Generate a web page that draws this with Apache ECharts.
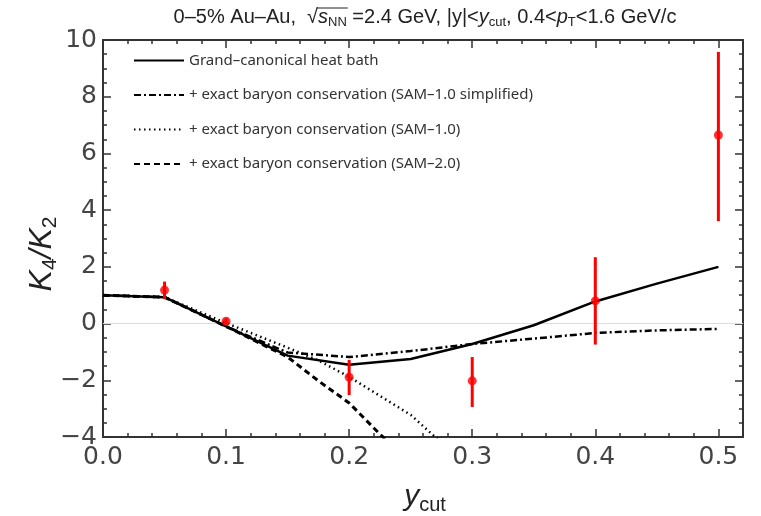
<!DOCTYPE html>
<html>
<head>
<meta charset="utf-8">
<script src="https://cdn.jsdelivr.net/npm/echarts@6/dist/echarts.min.js"></script>
<style>
  html, body { margin: 0; padding: 0; background: #fff; }
  #chart { width: 761px; height: 516px; }
</style>
</head>
<body>
<div id="chart"></div>
<script>
// model curves, K4/K2 vs y_cut
var gceX = [0, 0.05, 0.1, 0.15, 0.2, 0.25, 0.3, 0.35, 0.4, 0.45, 0.5];
var gceY = [1.0, 0.93, -0.1, -1.13, -1.45, -1.25, -0.72, -0.06, 0.78, 1.41, 2.0];

var samSimpX = [0, 0.05, 0.1, 0.15, 0.2, 0.25, 0.3, 0.35, 0.4, 0.45, 0.5];
var samSimpY = [1.0, 0.93, -0.1, -1.02, -1.18, -0.97, -0.72, -0.53, -0.33, -0.24, -0.19];

var sam1X = [0, 0.05, 0.1, 0.15, 0.175, 0.2, 0.225, 0.25, 0.275];
var sam1Y = [1.0, 0.93, 0.02, -0.85, -1.3, -1.88, -2.55, -3.22, -4.2];

var sam2X = [0, 0.05, 0.1, 0.15, 0.175, 0.2, 0.225, 0.235];
var sam2Y = [1.0, 0.93, -0.1, -1.18, -2.02, -2.8, -3.9, -4.3];

// measured points with error bars
var dataX  = [0.05, 0.1, 0.2, 0.3, 0.4, 0.5];
var dataY  = [1.18, 0.08, -1.89, -2.02, 0.8, 6.65];
var dataLo = [0.86, -0.03, -2.52, -2.94, -0.74, 3.61];
var dataHi = [1.48, 0.19, -1.28, -1.18, 2.34, 9.58];

var xTickLabels = ['0.0', '0.1', '0.2', '0.3', '0.4', '0.5'];
var yTickLabels = ['\u22124', '\u22122', '0', '2', '4', '6', '8', '10'];

var legendNames = [
  'Grand\u2013canonical heat bath',
  '+ exact baryon conservation (SAM\u20131.0 simplified)',
  '+ exact baryon conservation (SAM\u20131.0)',
  '+ exact baryon conservation (SAM\u20132.0)'
];

// title pieces: [text, style]  (n = normal, i = italic, s = subscript)
var titleParts = [
  ['0\u20135% Au\u2013Au,  \u221a', 'n'], ['s', 'i'], ['NN', 's'], [' =2.4 GeV, |y|<', 'n'],
  ['y', 'i'], ['cut', 's'], [', 0.4<', 'n'], ['p', 'i'], ['T', 's'], ['<1.6 GeV/c', 'n']
];

function pairs(xs, ys) {
  var out = [];
  for (var i = 0; i < xs.length; i++) out.push([xs[i], ys[i]]);
  return out;
}

var errData = [];
for (var i = 0; i < dataX.length; i++) {
  errData.push([dataX[i], dataY[i], dataLo[i], dataHi[i]]);
}

var frameColor = '#333';
var labelFont = { fontFamily: 'DejaVu Sans', fontSize: 25, fontWeight: 'normal', color: '#444' };
var titleSize = 20, titleSub = 13, titleX = 425, titleY = 17;

// measure title to place the overline of the square root
var mctx = document.createElement('canvas').getContext('2d');
function partFont(kind) {
  if (kind === 'i') return 'italic ' + titleSize + 'px "Liberation Sans"';
  if (kind === 's') return titleSub + 'px "Liberation Sans"';
  return titleSize + 'px "Liberation Sans"';
}
var richText = '', widths = [], total = 0;
titleParts.forEach(function (p) {
  mctx.font = partFont(p[1]);
  var w = mctx.measureText(p[0]).width;
  widths.push(w);
  total += w;
  richText += p[1] === 'n' ? p[0] : '{' + p[1] + '|' + p[0] + '}';
});
var ovStart = titleX - total / 2 + widths[0] - 1;
var ovEnd = ovStart + 1 + widths[1] + widths[2] + 1;

var chart = echarts.init(document.getElementById('chart'), null, { renderer: 'canvas' });

function xAxisPair(pos, withLabels) {
  return [{
    type: 'value', position: pos, min: 0, max: 0.52, interval: 0.02,
    axisLine: { show: true, onZero: false, lineStyle: { color: frameColor, width: 2 } },
    axisTick: { show: true, inside: true, length: 4, lineStyle: { color: frameColor, width: 1.5 } },
    axisLabel: { show: false },
    splitLine: { show: false }
  }, {
    type: 'value', position: pos, min: 0, max: 0.52, interval: 0.1,
    axisLine: { show: false, onZero: false },
    axisTick: { show: true, inside: true, length: 8, lineStyle: { color: frameColor, width: 1.5 } },
    axisLabel: {
      show: withLabels, margin: 8, showMaxLabel: false,
      formatter: function (v) { return xTickLabels[Math.round(v * 10)] || ''; },
      fontFamily: labelFont.fontFamily, fontSize: labelFont.fontSize,
      fontWeight: labelFont.fontWeight, color: labelFont.color
    },
    splitLine: { show: false }
  }];
}

function yAxisSide(pos, withLabels) {
  return {
    type: 'value', position: pos, min: -4, max: 10, interval: 2,
    axisLine: { show: true, onZero: false, lineStyle: { color: frameColor, width: 2 } },
    axisTick: { show: true, inside: true, length: 8, lineStyle: { color: frameColor, width: 1.5 } },
    minorTick: { show: true, splitNumber: 4, length: 4, lineStyle: { color: frameColor, width: 1.5 } },
    axisLabel: {
      show: withLabels, margin: 6,
      formatter: function (v) { return yTickLabels[Math.round((v + 4) / 2)]; },
      fontFamily: labelFont.fontFamily, fontSize: labelFont.fontSize,
      fontWeight: labelFont.fontWeight, color: labelFont.color
    },
    splitLine: { show: false }
  };
}

var xAxes = xAxisPair('bottom', true).concat(xAxisPair('top', false));

var option = {
  animation: false,
  backgroundColor: '#fff',
  grid: { left: 103, right: 18, top: 40, bottom: 79, outerBoundsMode: 'none' },
  xAxis: xAxes,
  yAxis: [yAxisSide('left', true), yAxisSide('right', false)],
  legend: {
    orient: 'vertical',
    left: 133, top: 53, padding: 0,
    itemWidth: 50, itemHeight: 14, itemGap: 19.5,
    data: legendNames,
    selectedMode: false,
    itemStyle: { opacity: 0 },
    textStyle: { fontFamily: 'Noto Sans', fontSize: 15, color: '#333' }
  },
  graphic: [
    {
      type: 'text', x: titleX, y: titleY,
      style: {
        text: richText,
        align: 'center', verticalAlign: 'middle',
        fontFamily: 'Liberation Sans', fontSize: titleSize, lineHeight: 24, fill: '#222',
        rich: {
          i: { fontFamily: 'Liberation Sans', fontSize: titleSize, fontStyle: 'italic', lineHeight: 24 },
          s: { fontFamily: 'Liberation Sans', fontSize: titleSub, lineHeight: 13, verticalAlign: 'bottom' }
        }
      }
    },
    {
      type: 'line',
      shape: { x1: ovStart, y1: titleY - 9, x2: ovEnd, y2: titleY - 9 },
      style: { stroke: '#222', lineWidth: 1 }
    },
    {
      type: 'text', x: 42, y: 254, rotation: Math.PI / 2,
      style: {
        text: '{k|K}{s|4}{k|/}{k|K}{s|2}',
        align: 'center', verticalAlign: 'middle', fill: '#222',
        rich: {
          k: { fontFamily: 'Liberation Sans', fontSize: 32, fontStyle: 'italic', lineHeight: 38 },
          s: { fontFamily: 'Liberation Sans', fontSize: 21, lineHeight: 21, verticalAlign: 'bottom' }
        }
      }
    },
    {
      type: 'text', x: 425, y: 497,
      style: {
        text: '{k|y}{s|cut}',
        align: 'center', verticalAlign: 'middle', fill: '#222',
        rich: {
          k: { fontFamily: 'Liberation Sans', fontSize: 30, fontStyle: 'italic', lineHeight: 36 },
          s: { fontFamily: 'Liberation Sans', fontSize: 20, lineHeight: 20, verticalAlign: 'bottom' }
        }
      }
    }
  ],
  series: [
    {
      name: legendNames[0], type: 'line', xAxisIndex: 0, yAxisIndex: 0,
      data: pairs(gceX, gceY), symbol: 'none', showSymbol: false,
      lineStyle: { color: '#000', width: 2.5, type: 'solid' },
      itemStyle: { color: '#000' },
      z: 3,
      markLine: {
        silent: true, symbol: 'none', label: { show: false },
        lineStyle: { color: '#dddddd', width: 1, type: 'solid' },
        data: [{ yAxis: 0 }],
        z: 1
      }
    },
    {
      name: legendNames[1], type: 'line', xAxisIndex: 0, yAxisIndex: 0,
      data: pairs(samSimpX, samSimpY), symbol: 'none', showSymbol: false,
      lineStyle: { color: '#000', width: 2.5, type: [7, 3, 2, 3] },
      itemStyle: { color: '#000' },
      z: 3
    },
    {
      name: legendNames[2], type: 'line', xAxisIndex: 0, yAxisIndex: 0,
      data: pairs(sam1X, sam1Y), symbol: 'none', showSymbol: false,
      lineStyle: { color: '#000', width: 2.5, type: [1.5, 3.5] },
      itemStyle: { color: '#000' },
      z: 3
    },
    {
      name: legendNames[3], type: 'line', xAxisIndex: 0, yAxisIndex: 0,
      data: pairs(sam2X, sam2Y), symbol: 'none', showSymbol: false,
      lineStyle: { color: '#000', width: 3, type: [6, 4] },
      itemStyle: { color: '#000' },
      z: 3
    },
    {
      name: 'errors', type: 'custom', xAxisIndex: 0, yAxisIndex: 0,
      data: errData,
      encode: { x: 0, y: [1, 2, 3] },
      renderItem: function (params, api) {
        var a = api.coord([api.value(0), api.value(2)]);
        var b = api.coord([api.value(0), api.value(3)]);
        return {
          type: 'line',
          shape: { x1: a[0], y1: a[1], x2: b[0], y2: b[1] },
          style: { stroke: '#ff0000', lineWidth: 3 }
        };
      },
      z: 4
    },
    {
      name: 'data', type: 'scatter', xAxisIndex: 0, yAxisIndex: 0,
      data: pairs(dataX, dataY),
      symbol: 'circle', symbolSize: 9,
      itemStyle: { color: '#ff0000' },
      z: 5
    }
  ]
};

chart.setOption(option);
</script>
</body>
</html>
